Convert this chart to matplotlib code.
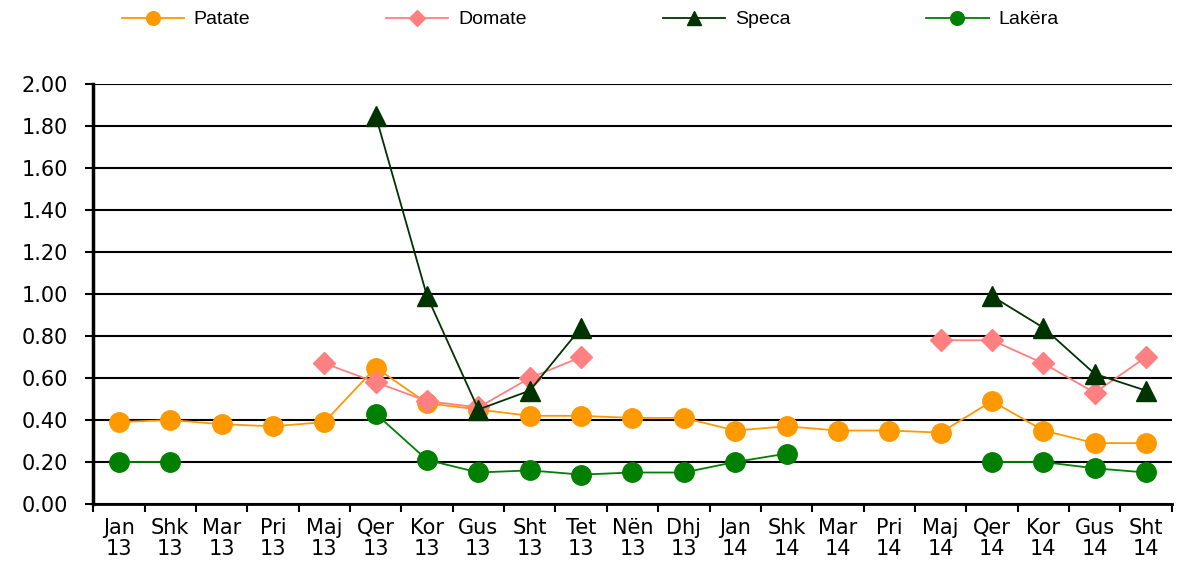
import numpy as np
from matplotlib import pyplot as plt

plt.rcParams["font.family"] = ["DejaVu Sans"]

# Months (Albanian abbreviations) and years
months = ["Jan", "Shk", "Mar", "Pri", "Maj", "Qer", "Kor", "Gus", "Sht", "Tet", "Nën", "Dhj",
          "Jan", "Shk", "Mar", "Pri", "Maj", "Qer", "Kor", "Gus", "Sht"]
years = ["13"] * 12 + ["14"] * 9
labels = [f"{m}\n{y}" for m, y in zip(months, years)]

nan = np.nan
patate = [0.39, 0.40, 0.38, 0.37, 0.39, 0.65, 0.48, 0.45, 0.42, 0.42, 0.41,
          0.41, 0.35, 0.37, 0.35, 0.35, 0.34, 0.49, 0.35, 0.29, 0.29]
domate = [nan, nan, nan, nan, 0.67, 0.58, 0.49, 0.46, 0.60, 0.70, nan,
          nan, nan, nan, nan, nan, 0.78, 0.78, 0.67, 0.53, 0.70]
speca = [nan, nan, nan, nan, nan, 1.85, 0.99, 0.45, 0.54, 0.84, nan,
         nan, nan, nan, nan, nan, nan, 0.99, 0.84, 0.62, 0.54]
lakera = [0.20, 0.20, nan, nan, nan, 0.43, 0.21, 0.15, 0.16, 0.14, 0.15,
          0.15, 0.20, 0.24, nan, nan, nan, 0.20, 0.20, 0.17, 0.15]

x = np.arange(len(labels))

fig = plt.figure(figsize=(11.8, 5.65), dpi=100)
ax = fig.add_axes([0.079, 0.108, 0.914, 0.743])

ax.plot(x, patate, color="#FF9900", marker="o", markersize=14, linewidth=1.3, label="Patate")
ax.plot(x, domate, color="#FF8080", marker="D", markersize=11, linewidth=1.3, label="Domate")
ax.plot(x, speca, color="#003300", marker="^", markersize=14, linewidth=1.3, label="Speca")
ax.plot(x, lakera, color="#008000", marker="o", markersize=14, linewidth=1.3, label="Lakëra")

ax.set_ylim(0, 2.0)
ax.set_yticks(np.arange(0, 2.01, 0.2))
ax.set_yticklabels([f"{v:.2f}" for v in np.arange(0, 2.01, 0.2)], fontsize=15)
ax.yaxis.grid(True, color="black", linewidth=1.5)
ax.set_axisbelow(True)

ax.set_xlim(-0.5, len(labels) - 0.5)
ax.set_xticks(x)
ax.set_xticklabels(labels, fontsize=15, linespacing=1.05)
ax.set_xticks(np.arange(-0.5, len(labels), 1), minor=True)
ax.tick_params(axis="x", which="major", length=0, pad=10)
ax.tick_params(axis="x", which="minor", length=6, width=1.5)
ax.tick_params(axis="y", length=6, width=1.5, pad=12)

for side in ["top", "right"]:
    ax.spines[side].set_visible(False)
ax.spines["left"].set_linewidth(2.5)
ax.spines["bottom"].set_linewidth(2)

fig.legend(loc="upper center", bbox_to_anchor=(0.5, 1.012), ncol=4, frameon=False,
           prop={"family": "Liberation Sans", "size": 14}, handlelength=3.2,
           handletextpad=0.5, columnspacing=7.0, markerscale=0.7)

fig.savefig("out.png", dpi=100)
